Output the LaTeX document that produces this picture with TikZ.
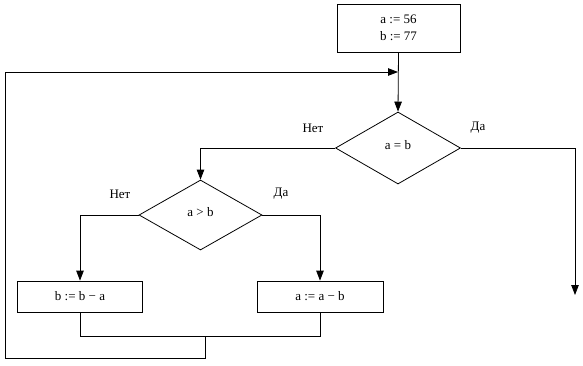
\documentclass[tikz,border=0pt]{standalone}
\usepackage{fontspec}
\setmainfont{Liberation Serif}
\usetikzlibrary{shapes.geometric,arrows.meta}
\begin{document}
\begin{tikzpicture}[x=1pt,y=-1pt,
  every node/.style={font=\fontsize{13}{17}\selectfont},
  line/.style={draw=black,line width=0.8pt},
  arr/.style={line, -{Triangle[length=10pt,width=7.5pt]}},
  box/.style={draw=black,line width=0.8pt,rectangle,inner sep=0pt},
  dec/.style={draw=black,line width=0.8pt,diamond,inner sep=0pt,aspect=1.7}
]
\useasboundingbox (0,0) rectangle (583,365);
\node[box,minimum width=123pt,minimum height=48pt,align=center] (init) at (398.5,28) {a := 56\\b := 77};
\node[dec,minimum width=125pt,minimum height=72pt] (d1) at (398,148) {\raisebox{7pt}{a = b}};
\node[dec,minimum width=123pt,minimum height=70pt] (d2) at (200.5,215) {\raisebox{7pt}{a > b}};
\node[box,minimum width=125pt,minimum height=31pt] (b1) at (80,296.5) {b := b − a};
\node[box,minimum width=126pt,minimum height=31pt] (b2) at (320,296.5) {a := a − b};
\node (n1) at (313,128) {Нет};
\node (y1) at (478,128) {Да};
\node (n2) at (120,194) {Нет};
\node (y2) at (281,194) {Да};
\coordinate (join) at (398,72);
\coordinate (exit) at (575,295);
\coordinate (m1) at (80,336);
\coordinate (m2) at (320,336);
\coordinate (mid) at (205,336);
\coordinate (c1) at (205,358);
\coordinate (c2) at (5,358);
\coordinate (c3) at (5,72);
\draw[arr] (init.south) -- (d1.north);
\draw[arr] (d1.west) -| (d2.north);
\draw[arr] (d1.east) -| (exit);
\draw[arr] (d2.west) -| (b1.north);
\draw[arr] (d2.east) -| (b2.north);
\draw[line] (b1.south) -- (m1) -- (m2) -- (b2.south);
\draw[arr] (mid) -- (c1) -- (c2) -- (c3) -- (join);
\end{tikzpicture}
\end{document}
